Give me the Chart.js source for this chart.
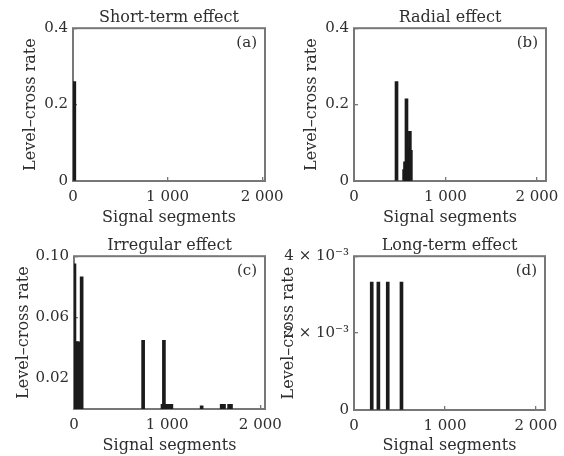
<!DOCTYPE html>
<html>
<head>
<meta charset="utf-8">
<script src="https://cdn.jsdelivr.net/npm/chart.js@4.4.1/dist/chart.umd.min.js"></script>
<style>
  html, body { margin: 0; padding: 0; background: #fff; }
  #wrap { position: relative; width: 564px; height: 456px; overflow: hidden; background: #fff; }
  #wrap canvas { position: absolute; }
</style>
</head>
<body>
<div id="wrap"></div>
<script>
// --- values ---
const xTicks = [0, 1000, 2000];
const xTickLabels = ['0', '1 000', '2 000'];

const shortSeg = [14];
const shortRate = [0.26];

const radialSeg = [465, 548, 558, 574, 584, 596, 611, 622];
const radialRate = [0.26, 0.03, 0.05, 0.215, 0.086, 0.086, 0.13, 0.08];

const irregularSeg = [5, 20, 35, 50, 82, 742, 950, 965, 985, 1005, 1025, 1045, 1370, 1585, 1610, 1665, 1685];
const irregularRate = [0.095, 0.044, 0.044, 0.044, 0.0865, 0.045, 0.003, 0.045, 0.003, 0.003, 0.003, 0.003, 0.002, 0.003, 0.003, 0.003, 0.003];

const longSeg = [195, 268, 371, 522];
const longRate = [0.00333, 0.00333, 0.00333, 0.00333];

const rateTicksAB = [0, 0.2, 0.4];
const rateLabelsAB = ['0', '0.2', '0.4'];
const rateTicksC = [0.02, 0.06, 0.10];
const rateLabelsC = ['0.02', '0.06', '0.10'];
const rateTicksD = [0, 0.002, 0.004];
const rateLabelsD = ['0', '2 × 10⁻³', '4 × 10⁻³'];

// --- look ---
const FONT = '"DejaVu Serif", "Liberation Serif", serif';
const TEXT = '#2e2e2e';
const LINE = '#777777';
const BAR = '#1b1b1b';
const tickFont = { family: FONT, size: 15 };
const labelFont = { family: FONT, size: 16 };

const panels = [
  { title: 'Short-term effect', tag: '(a)', seg: shortSeg, rate: shortRate, xMax: 2030, yMax: 0.4,
    yTicks: rateTicksAB, yLabels: rateLabelsAB,
    box: { left: 0, top: 0, w: 290 }, plot: { left: 73, right: 265, bottom: 181 }, yTitlePad: 21 },
  { title: 'Radial effect', tag: '(b)', seg: radialSeg, rate: radialRate, xMax: 2100, yMax: 0.4,
    yTicks: rateTicksAB, yLabels: rateLabelsAB,
    box: { left: 282, top: 0, w: 282 }, plot: { left: 72, right: 264, bottom: 181 }, yTitlePad: 20 },
  { title: 'Irregular effect', tag: '(c)', seg: irregularSeg, rate: irregularRate, xMax: 2050, yMax: 0.1,
    yTicks: rateTicksC, yLabels: rateLabelsC,
    box: { left: 0, top: 228, w: 290 }, plot: { left: 74, right: 265, bottom: 181 }, yTitlePad: 14 },
  { title: 'Long-term effect', tag: '(d)', seg: longSeg, rate: longRate, xMax: 2100, yMax: 0.004,
    yTicks: rateTicksD, yLabels: rateLabelsD,
    box: { left: 279, top: 228, w: 285 }, plot: { left: 75, right: 266, bottom: 182 }, yTitlePad: 0 }
];

// box round the plot area + panel letter
const framePlugin = {
  id: 'frame',
  beforeDatasetsDraw(chart) {
    const { left, top, right, bottom } = chart.chartArea;
    const ctx = chart.ctx;
    ctx.save();
    ctx.strokeStyle = LINE;
    ctx.lineWidth = 2;
    ctx.strokeRect(left, top, right - left, bottom - top);
    ctx.restore();
  },
  afterDraw(chart, args, opts) {
    const { top, right } = chart.chartArea;
    const ctx = chart.ctx;
    ctx.save();
    ctx.font = `15px ${FONT}`;
    ctx.fillStyle = TEXT;
    ctx.textAlign = 'right';
    ctx.textBaseline = 'middle';
    ctx.fillText(opts.tag, right - 8, top + 15);
    ctx.restore();
  }
};

function gridOpts() {
  return { offset: false, drawOnChartArea: false, tickLength: -4, color: LINE, lineWidth: 1.3 };
}

function drawPanel(p) {
  const cv = document.createElement('canvas');
  cv.width = p.box.w;
  cv.height = 228;
  cv.style.left = p.box.left + 'px';
  cv.style.top = p.box.top + 'px';
  document.getElementById('wrap').appendChild(cv);

  new Chart(cv, {
    type: 'bar',
    data: {
      datasets: [{
        data: p.seg.map((s, i) => ({ x: s, y: p.rate[i] })),
        backgroundColor: BAR,
        borderWidth: 0,
        barThickness: 3
      }]
    },
    options: {
      responsive: false,
      animation: false,
      events: [],
      layout: { padding: { left: 0, top: 0, right: p.box.w - p.plot.right, bottom: 0 } },
      plugins: {
        legend: { display: false },
        tooltip: { enabled: false },
        title: {
          display: true, text: p.title, fullSize: false, color: TEXT,
          font: { family: FONT, size: 16, weight: 'normal' },
          padding: { top: 8, bottom: 1 }
        },
        frame: { tag: p.tag }
      },
      scales: {
        x: {
          type: 'linear', min: 0, max: p.xMax, offset: false,
          grid: gridOpts(),
          border: { display: false },
          afterBuildTicks: s => { s.ticks = xTicks.map(v => ({ value: v })); },
          afterFit: s => { s.height = 228 - p.plot.bottom; s.paddingLeft = 0; s.paddingRight = 0; },
          ticks: { padding: 11, color: TEXT, font: tickFont, maxRotation: 0, autoSkip: false,
                   callback: (v, i) => xTickLabels[i] },
          title: { display: true, text: 'Signal segments', color: TEXT, font: labelFont,
                   padding: { top: 0, bottom: 1 } }
        },
        y: {
          min: 0, max: p.yMax,
          grid: gridOpts(),
          border: { display: false },
          afterBuildTicks: s => { s.ticks = p.yTicks.map(v => ({ value: v })); },
          afterFit: s => { s.width = p.plot.left; s.paddingTop = 0; s.paddingBottom = 0; },
          ticks: { padding: 9, color: TEXT, font: tickFont, autoSkip: false,
                   callback: (v, i) => p.yLabels[i] },
          title: { display: true, text: 'Level–cross rate', color: TEXT, font: labelFont,
                   padding: { top: p.yTitlePad, bottom: 0 } }
        }
      }
    },
    plugins: [framePlugin]
  });
}

panels.forEach(drawPanel);
</script>
</body>
</html>
